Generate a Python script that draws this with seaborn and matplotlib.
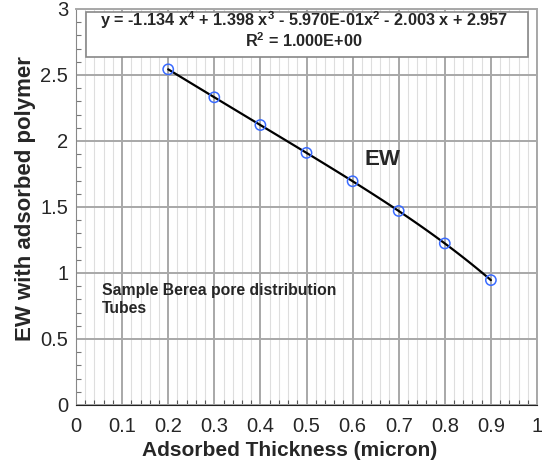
import numpy as np
import pandas as pd
import seaborn as sns
import matplotlib
matplotlib.use("Agg")
import matplotlib.pyplot as plt
from matplotlib.patches import Rectangle
from matplotlib.ticker import MultipleLocator

thickness = [0.2, 0.3, 0.4, 0.5, 0.6, 0.7, 0.8, 0.9]
ew = [2.543, 2.331, 2.121, 1.910, 1.695, 1.470, 1.224, 0.946]
x_ticks = [0, 0.1, 0.2, 0.3, 0.4, 0.5, 0.6, 0.7, 0.8, 0.9, 1]
x_tick_labels = ["0", "0.1", "0.2", "0.3", "0.4", "0.5", "0.6", "0.7", "0.8", "0.9", "1"]
y_ticks = [0, 0.5, 1, 1.5, 2, 2.5, 3]
y_tick_labels = ["0", "0.5", "1", "1.5", "2", "2.5", "3"]

df = pd.DataFrame({"thickness": thickness, "ew": ew})

sns.set_style("white")
plt.rcParams["font.family"] = ["Liberation Sans", "DejaVu Sans"]
plt.rcParams["mathtext.fontset"] = "custom"
plt.rcParams["mathtext.rm"] = "Liberation Sans:bold"
plt.rcParams["mathtext.bf"] = "Liberation Sans:bold"
plt.rcParams["mathtext.it"] = "Liberation Sans:bold"

fig = plt.figure(figsize=(5.42, 4.68), dpi=100)
ax = fig.add_axes([76 / 542, 1 - 405 / 468, (537 - 76) / 542, (405 - 9) / 468])

# fit line (4th order polynomial)
sns.regplot(data=df, x="thickness", y="ew", order=4, ci=None, ax=ax,
            scatter=False, line_kws=dict(color="black", lw=1.6, zorder=3))
sns.scatterplot(data=df, x="thickness", y="ew", ax=ax, marker="o",
                s=55, facecolor="none", edgecolor="#3a6bff", linewidth=1.1, zorder=4)

ax.set_xlim(0, 1)
ax.set_ylim(0, 3)
ax.set_xticks(x_ticks)
ax.set_xticklabels(x_tick_labels, fontsize=14.5)
ax.set_yticks(y_ticks)
ax.set_yticklabels(y_tick_labels, fontsize=14.5)
ax.xaxis.set_minor_locator(MultipleLocator(0.02))
ax.yaxis.set_minor_locator(MultipleLocator(0.1))
ax.grid(which="major", color="#a8a8a8", lw=1.4)
ax.grid(which="minor", axis="x", color="#dedede", lw=0.8)
ax.set_axisbelow(True)
ax.tick_params(axis="x", which="major", direction="out", length=7, width=1,
               color="#333333", pad=2)
ax.tick_params(axis="y", which="major", direction="inout", length=7, width=1,
               color="#666666", pad=2)
ax.tick_params(axis="x", which="minor", direction="in", length=3.5, width=0.8,
               color="#555555", bottom=True)
ax.tick_params(axis="y", which="minor", direction="in", length=3.5, width=0.8,
               color="#777777", left=True)
for side in ["top", "right"]:
    ax.spines[side].set_color("#a8a8a8")
    ax.spines[side].set_linewidth(1.4)
ax.spines["left"].set_color("#888888")
ax.spines["bottom"].set_color("#222222")

ax.set_xlabel("Adsorbed Thickness (micron)", fontsize=15, fontweight="bold")
ax.xaxis.set_label_coords((290 - 76) / 461, -(451 - 405) / 396)
ax.set_ylabel("EW with adsorbed polymer", fontsize=16, fontweight="bold")
ax.yaxis.set_label_coords((26 - 76) / 461, (405 - 199) / 396)
ax.yaxis.label.set_va("center")
ax.xaxis.label.set_va("center")

# equation box
box = Rectangle((10 / 461, (405 - 57) / 396), (528 - 86) / 461, 45 / 396,
                transform=ax.transAxes, facecolor="white", edgecolor="#888888",
                lw=1.2, zorder=5)
ax.add_patch(box)
ax.text(0.495, (405 - 20.5) / 396,
        r"y = -1.134 x$^{4}$ + 1.398 x$^{3}$ - 5.970E-01x$^{2}$ - 2.003 x + 2.957",
        transform=ax.transAxes, ha="center", va="center", fontsize=11.7,
        fontweight="bold", zorder=6)
ax.text(0.495, (405 - 41) / 396, r"R$^{2}$ = 1.000E+00",
        transform=ax.transAxes, ha="center", va="center", fontsize=11.7,
        fontweight="bold", zorder=6)

ax.text(0.625, 1.86, "EW", fontsize=16, fontweight="bold", ha="left", va="center")
ax.text(0.057, 0.80, "Sample Berea pore distribution\nTubes", fontsize=11.3,
        fontweight="bold", ha="left", va="center", linespacing=1.3)

fig.savefig("out.png", dpi=100)
